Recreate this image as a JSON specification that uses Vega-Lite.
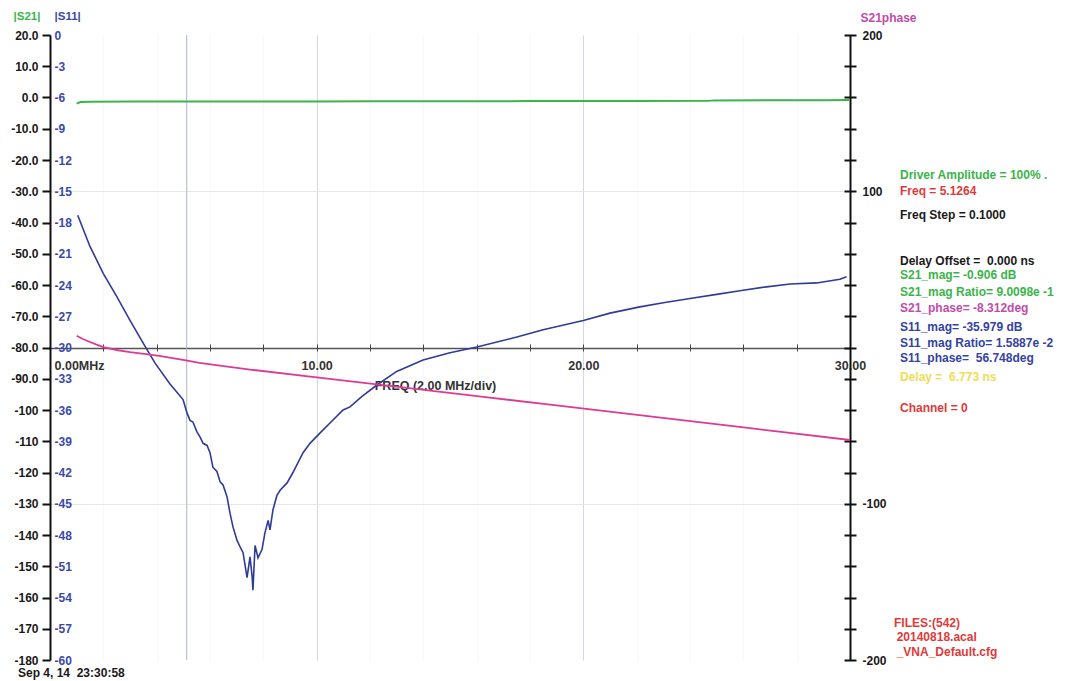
{
  "$schema": "https://vega.github.io/schema/vega-lite/v6.json",
  "width": 800,
  "height": 625,
  "autosize": {"type": "none"},
  "padding": {"left": 50, "top": 35, "right": 225, "bottom": 21},
  "background": "#ffffff",
  "config": {
    "view": {"stroke": null},
    "font": "Liberation Sans",
    "axis": {"labelFont": "Liberation Sans", "titleFont": "Liberation Sans"}
  },
  "datasets": {
    "s21": [
      {"f": 1.0, "s21": -1.9}, {"f": 1.15, "s21": -1.45}, {"f": 1.5, "s21": -1.35}, {"f": 3, "s21": -1.3},
      {"f": 5, "s21": -1.3}, {"f": 8, "s21": -1.28}, {"f": 10, "s21": -1.25}, {"f": 12, "s21": -1.22},
      {"f": 15, "s21": -1.2}, {"f": 18, "s21": -1.15}, {"f": 20, "s21": -1.12}, {"f": 22, "s21": -1.1},
      {"f": 24.7, "s21": -1.08}, {"f": 24.9, "s21": -0.92}, {"f": 27, "s21": -0.9}, {"f": 29, "s21": -0.85},
      {"f": 30, "s21": -0.8}
    ],
    "s11": [
      {"f": 1.04, "s11": -17.3}, {"f": 1.5, "s11": -20.3}, {"f": 2.0, "s11": -22.9}, {"f": 2.5, "s11": -25.1},
      {"f": 3.0, "s11": -27.4}, {"f": 3.5, "s11": -29.6}, {"f": 3.94, "s11": -31.5}, {"f": 4.5, "s11": -33.5},
      {"f": 4.99, "s11": -35.0}, {"f": 5.14, "s11": -36.3}, {"f": 5.25, "s11": -37.0}, {"f": 5.36, "s11": -37.15},
      {"f": 5.51, "s11": -38.1}, {"f": 5.63, "s11": -38.6}, {"f": 5.74, "s11": -39.2}, {"f": 5.89, "s11": -39.4},
      {"f": 6.0, "s11": -40.1}, {"f": 6.11, "s11": -41.5}, {"f": 6.26, "s11": -41.9}, {"f": 6.38, "s11": -42.9},
      {"f": 6.49, "s11": -43.2}, {"f": 6.64, "s11": -44.35}, {"f": 6.75, "s11": -45.9}, {"f": 6.86, "s11": -47.2},
      {"f": 7.01, "s11": -48.5}, {"f": 7.13, "s11": -49.15}, {"f": 7.24, "s11": -49.7}, {"f": 7.39, "s11": -52.1},
      {"f": 7.5, "s11": -50.1}, {"f": 7.58, "s11": -52.0}, {"f": 7.61, "s11": -53.3}, {"f": 7.69, "s11": -49.0},
      {"f": 7.8, "s11": -50.2}, {"f": 7.95, "s11": -49.4}, {"f": 8.06, "s11": -47.8}, {"f": 8.18, "s11": -46.6},
      {"f": 8.25, "s11": -47.5}, {"f": 8.36, "s11": -45.6}, {"f": 8.51, "s11": -44.2}, {"f": 8.63, "s11": -43.7},
      {"f": 8.89, "s11": -43.0}, {"f": 9.11, "s11": -42.0}, {"f": 9.49, "s11": -40.1}, {"f": 9.75, "s11": -39.2},
      {"f": 10.13, "s11": -38.2}, {"f": 10.5, "s11": -37.25}, {"f": 10.99, "s11": -36.0}, {"f": 11.25, "s11": -35.7},
      {"f": 11.7, "s11": -34.7}, {"f": 12.26, "s11": -33.6}, {"f": 13.0, "s11": -32.3}, {"f": 13.99, "s11": -31.2},
      {"f": 15.0, "s11": -30.5}, {"f": 16.01, "s11": -29.95}, {"f": 17.51, "s11": -29.0}, {"f": 18.49, "s11": -28.3},
      {"f": 20.0, "s11": -27.4}, {"f": 21.0, "s11": -26.7}, {"f": 22.12, "s11": -26.1}, {"f": 23.0, "s11": -25.7},
      {"f": 24.0, "s11": -25.3}, {"f": 25.0, "s11": -24.9}, {"f": 25.87, "s11": -24.55}, {"f": 26.8, "s11": -24.2},
      {"f": 27.75, "s11": -23.9}, {"f": 28.75, "s11": -23.8}, {"f": 29.62, "s11": -23.45}, {"f": 29.87, "s11": -23.2}
    ],
    "phase": [
      {"f": 1.0, "deg": 7.5}, {"f": 1.25, "deg": 5.3}, {"f": 1.5, "deg": 3.5}, {"f": 1.75, "deg": 1.8},
      {"f": 2.0, "deg": 0.3}, {"f": 2.5, "deg": -1.6}, {"f": 3.0, "deg": -2.9}, {"f": 3.6, "deg": -4.2},
      {"f": 4.1, "deg": -5.4}, {"f": 5.1, "deg": -8.3}, {"f": 5.6, "deg": -9.9}, {"f": 7.5, "deg": -14.1},
      {"f": 10, "deg": -19.1}, {"f": 12.5, "deg": -24.1}, {"f": 16.25, "deg": -31.6}, {"f": 18.75, "deg": -36.6},
      {"f": 22.5, "deg": -44.1}, {"f": 26.25, "deg": -51.6}, {"f": 30, "deg": -59.2}
    ],
    "marker": [{"f": 5.1264}],
    "notes": [
      {"label": "Driver Amplitude = 100% .", "grp": "S21", "f": 31.875, "v": -24.8},
      {"label": "Freq = 5.1264", "grp": "info", "f": 31.875, "v": -29.9},
      {"label": "Freq Step = 0.1000", "grp": "setting", "f": 31.875, "v": -37.6},
      {"label": "Delay Offset =\u00a0 0.000 ns", "grp": "setting", "f": 31.875, "v": -52.3},
      {"label": "S21_mag= -0.906 dB", "grp": "S21", "f": 31.875, "v": -56.8},
      {"label": "S21_mag Ratio= 9.0098e -1", "grp": "S21", "f": 31.875, "v": -62.1},
      {"label": "S21_phase= -8.312deg", "grp": "phase", "f": 31.875, "v": -67.3},
      {"label": "S11_mag= -35.979 dB", "grp": "S11", "f": 31.875, "v": -73.5},
      {"label": "S11_mag Ratio= 1.5887e -2", "grp": "S11", "f": 31.875, "v": -78.7},
      {"label": "S11_phase=\u00a0 56.748deg", "grp": "S11", "f": 31.875, "v": -83.5},
      {"label": "Delay =\u00a0 6.773 ns", "grp": "delay", "f": 31.875, "v": -89.3},
      {"label": "Channel = 0", "grp": "info", "f": 31.875, "v": -99.5},
      {"label": "FILES:(542)", "grp": "info", "f": 31.65, "v": -168.1},
      {"label": " 20140818.acal", "grp": "info", "f": 31.75, "v": -172.6},
      {"label": " _VNA_Default.cfg", "grp": "info", "f": 31.75, "v": -177.3},
      {"label": "Sep 4, 14\u00a0 23:30:58", "grp": "setting", "f": -1.2, "v": -184.2}
    ]
  },
  "encoding": {
    "x": {
      "field": "f",
      "type": "quantitative",
      "scale": {"domain": [0, 30], "nice": false, "zero": false},
      "axis": {
        "orient": "bottom",
        "offset": -316,
        "values": [0, 2, 4, 6, 8, 10, 12, 14, 16, 18, 20, 22, 24, 26, 28, 30],
        "domain": false,
        "tickSize": 7,
        "tickColor": "#444444",
        "tickWidth": 1,
        "labelExpr": "datum.value == 0 ? '0.00MHz' : (datum.value % 10 == 0 ? datum.value + '.00' : '')",
        "labelAlign": {"condition": {"test": "datum.value == 0", "value": "left"}, "value": "center"},
        "labelOffset": {"condition": {"test": "datum.value == 0", "value": 4}, "value": 0},
        "labelPadding": 8,
        "labelFontSize": 12.5,
        "labelFontWeight": "bold",
        "labelColor": "#333333",
        "labelOverlap": false,
        "labelBound": false,
        "labelFlush": false,
        "grid": true,
        "gridColor": {"condition": {"test": "datum.value % 10 == 0", "value": "#d3d8e3"}, "value": "#f7f7f9"},
        "title": "FREQ (2.00 MHz/div)",
        "titleX": 385,
        "titleY": 41,
        "titleAlign": "center",
        "titleBaseline": "middle",
        "titleFontSize": 12.5,
        "titleFontWeight": "bold",
        "titleColor": "#333333"
      }
    }
  },
  "layer": [
    {
      "data": {"name": "marker"},
      "mark": {"type": "rule", "color": "#aab5cd", "strokeWidth": 1},
      "encoding": {}
    },
    {
      "data": {"name": "s21"},
      "mark": {"type": "line", "color": "#3cb44b", "strokeWidth": 2},
      "encoding": {
        "y": {
          "field": "s21",
          "type": "quantitative",
          "scale": {"domain": [-180, 20], "nice": false, "zero": false},
          "axis": {
            "orient": "left",
            "values": [20, 10, 0, -10, -20, -30, -40, -50, -60, -70, -80, -90, -100, -110, -120, -130, -140, -150, -160, -170, -180],
            "domain": true,
            "domainColor": "#111111",
            "domainWidth": 2,
            "ticks": true,
            "tickSize": 8,
            "tickColor": "#111111",
            "tickWidth": 2,
            "labelPadding": 4,
            "labelFontSize": 12,
            "labelFontWeight": "bold",
            "labelColor": "#1a1a1a",
            "labelExpr": "abs(datum.value) >= 100 ? '' + datum.value : datum.value + '.0'",
            "labelOverlap": false,
            "labelBound": false,
            "labelFlush": false,
            "grid": false,
            "title": "|S21|",
            "titleAngle": 0,
            "titleX": -37,
            "titleY": -19,
            "titleAlign": "left",
            "titleBaseline": "middle",
            "titleColor": "#3cb44b",
            "titleFontSize": 11.5,
            "titleFontWeight": "bold"
          }
        }
      }
    },
    {
      "data": {"name": "s11"},
      "mark": {"type": "line", "color": "#2f3b97", "strokeWidth": 1.6},
      "encoding": {
        "y": {
          "field": "s11",
          "type": "quantitative",
          "scale": {"domain": [-60, 0], "nice": false, "zero": false},
          "axis": {
            "orient": "left",
            "values": [0, -3, -6, -9, -12, -15, -18, -21, -24, -27, -30, -33, -36, -39, -42, -45, -48, -51, -54, -57, -60],
            "domain": false,
            "ticks": false,
            "tickSize": 0,
            "labelAlign": "left",
            "labelPadding": -4,
            "labelFontSize": 12,
            "labelFontWeight": "bold",
            "labelColor": "#3b4aa8",
            "labelExpr": "'' + datum.value",
            "labelOverlap": false,
            "labelBound": false,
            "labelFlush": false,
            "grid": false,
            "title": "|S11|",
            "titleAngle": 0,
            "titleX": 4,
            "titleY": -19,
            "titleAlign": "left",
            "titleBaseline": "middle",
            "titleColor": "#3b4aa8",
            "titleFontSize": 11.5,
            "titleFontWeight": "bold"
          }
        }
      }
    },
    {
      "data": {"name": "phase"},
      "mark": {"type": "line", "color": "#dd3a96", "strokeWidth": 1.8},
      "encoding": {
        "y": {
          "field": "deg",
          "type": "quantitative",
          "scale": {"domain": [-200, 200], "nice": false, "zero": false},
          "axis": {
            "orient": "right",
            "offset": -6,
            "values": [-200, -180, -160, -140, -120, -100, -80, -60, -40, -20, 0, 20, 40, 60, 80, 100, 120, 140, 160, 180, 200],
            "domain": false,
            "tickSize": 12,
            "tickColor": "#111111",
            "tickWidth": 2,
            "labelPadding": 6,
            "labelExpr": "abs(datum.value) == 100 || abs(datum.value) == 200 ? '' + datum.value : ''",
            "labelFontSize": 12,
            "labelFontWeight": "bold",
            "labelColor": "#1a1a1a",
            "labelOverlap": false,
            "labelBound": false,
            "labelFlush": false,
            "grid": true,
            "gridColor": {"condition": {"test": "datum.value == 0", "value": "#555555"}, "value": "#e4e6ec"},
            "gridOpacity": {"condition": {"test": "datum.value == 0 || abs(datum.value) == 100", "value": 1}, "value": 0},
            "gridWidth": {"condition": {"test": "datum.value == 0", "value": 1.5}, "value": 1},
            "title": "S21phase",
            "titleAngle": 0,
            "titleX": 16,
            "titleY": -18,
            "titleAlign": "left",
            "titleBaseline": "middle",
            "titleColor": "#c24aa9",
            "titleFontSize": 12,
            "titleFontWeight": "bold"
          }
        }
      }
    },
    {
      "data": {"name": "phase"},
      "mark": {"type": "point", "opacity": 0},
      "encoding": {
        "y": {
          "field": "deg",
          "type": "quantitative",
          "scale": {"domain": [-200, 200], "nice": false, "zero": false},
          "axis": {
            "orient": "right",
            "offset": 0,
            "domain": true,
            "domainColor": "#111111",
            "domainWidth": 2,
            "ticks": false,
            "labels": false,
            "grid": false,
            "title": null
          }
        }
      }
    },
    {
      "data": {"name": "notes"},
      "mark": {"type": "text", "align": "left", "baseline": "middle", "fontSize": 12, "fontWeight": "bold", "font": "Liberation Sans", "clip": false},
      "encoding": {
        "y": {"field": "v", "type": "quantitative", "scale": {"domain": [-180, 20], "nice": false, "zero": false}, "axis": null},
        "text": {"field": "label"},
        "color": {
          "field": "grp",
          "type": "nominal",
          "scale": {"domain": ["S21", "S11", "phase", "info", "setting", "delay"], "range": ["#3bb44a", "#3342a5", "#c24aa9", "#e03a3a", "#1a1a1a", "#eedd55"]},
          "legend": null
        }
      }
    }
  ],
  "resolve": {"scale": {"y": "independent"}}
}
